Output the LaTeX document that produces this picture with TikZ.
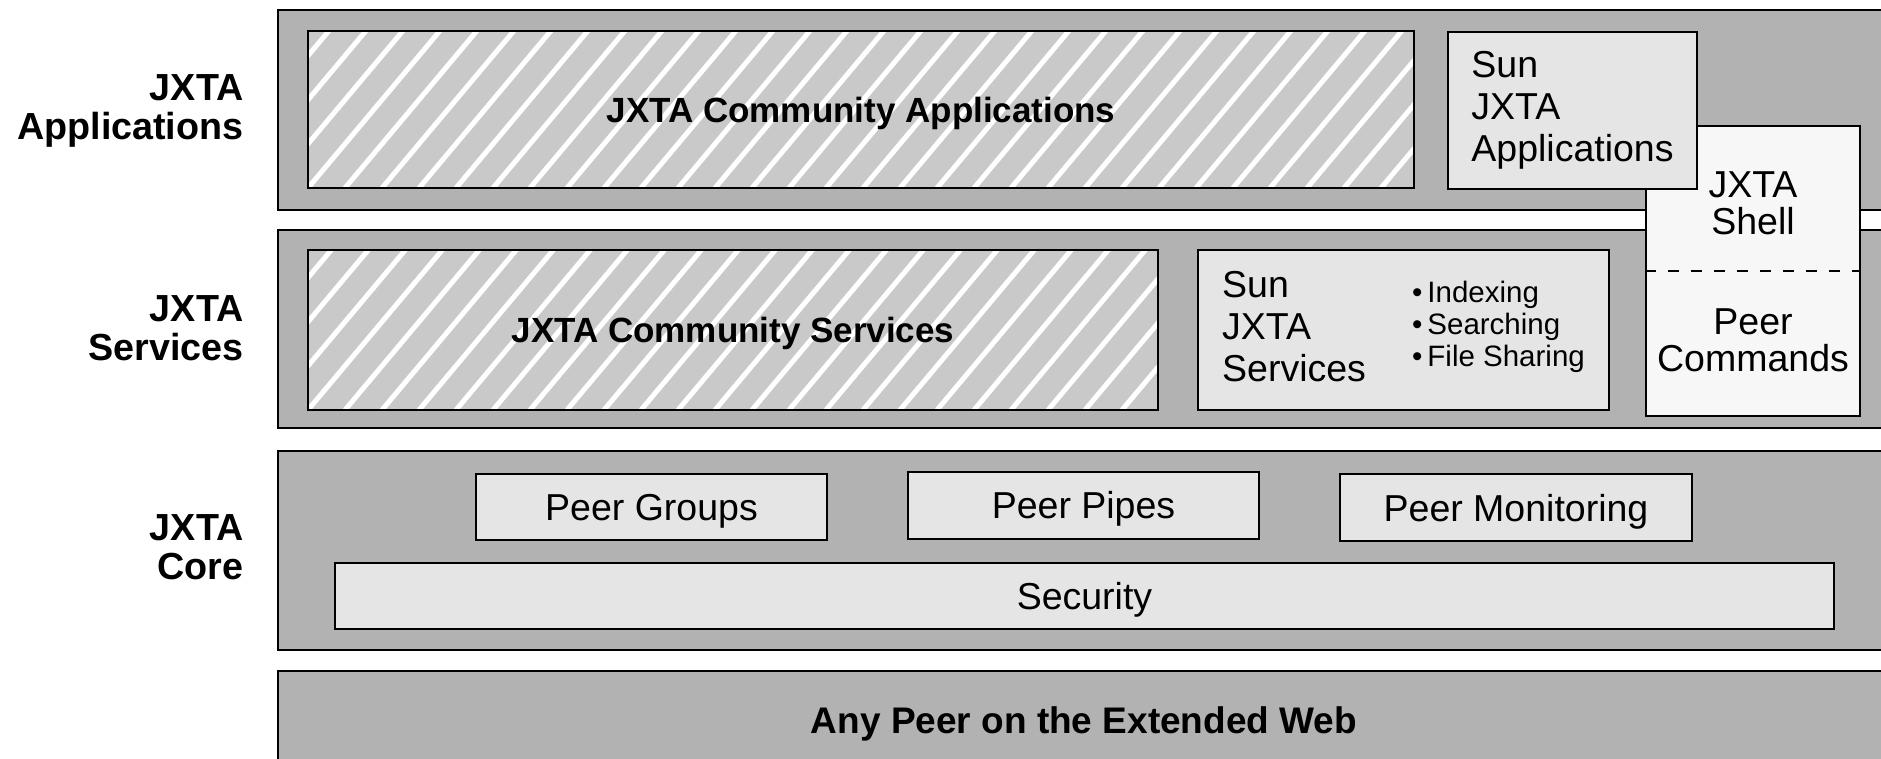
\documentclass[tikz,border=0pt]{standalone}
\usepackage{fontspec}
\setmainfont{Liberation Sans}

\begin{document}
\begin{tikzpicture}[
  x=1pt,y=-1pt,
  every node/.style={font=\fontsize{37.5}{42}\selectfont},
  layer/.style={draw,line width=2pt,fill=black!30,minimum width=1640pt,inner sep=0pt},
  box/.style={draw,line width=2pt,fill=black!10,inner sep=0pt},
  corebox/.style={box,text depth=0pt},
  hatched/.style={box,fill=black!21,path picture={
      \foreach \k in {-8,...,34}
        \draw[white,line width=5pt]
          ([xshift=\k*37pt]path picture bounding box.south west) -- ++(50:300pt);}},
  shellbox/.style={box,fill=black!3},
  side/.style={anchor=east,align=right,font=\fontsize{37.7}{39}\selectfont\bfseries},
  big/.style={font=\fontsize{35}{40}\selectfont\bfseries,text depth=0pt}]

\useasboundingbox (0,0) rectangle (1881,759);
\clip (0,0) rectangle (1881,759);

% ---- the four layers ----
\node[layer,minimum height=200pt] (applyr)  at (1098,110)   {};
\node[layer,minimum height=198pt] (svclyr)  at (1098,329)   {};
\node[layer,minimum height=199pt] (corelyr) at (1098,550.5) {};
\node[layer,minimum height=119pt] (peerlyr) at (1098,730.5) {};

\node[side] (lblapp)  at (247,111) {JXTA\\Applications};
\node[side] (lblsvc)  at (247,328) {JXTA\\Services};
\node[side] (lblcore) at (247,547) {JXTA\\Core};
\node[font=\fontsize{37}{40}\selectfont\bfseries] (anypeer) at (1084,724) {Any Peer on the Extended Web};

% ---- applications and services ----
\node[hatched,big,minimum width=1106pt,minimum height=157pt] (commapps) at (861,109.5) {JXTA Community Applications};
\node[hatched,big,minimum width=850pt,minimum height=160pt] (commsvc) at (733,330) {JXTA Community Services};
\node[box,minimum width=411pt,minimum height=160pt] (sunsvc) at (1403.5,330) {};
\node[anchor=west,inner sep=0pt,align=left] (sunsvctxt) at (1222,327) {Sun\\JXTA\\Services};
\node[anchor=west,inner sep=0pt,align=left,font=\fontsize{29.5}{32}\selectfont] (bullets) at (1412,327)
  {\textbullet\,Indexing\\\textbullet\,Searching\\\textbullet\,File Sharing};

% ---- core ----
\node[corebox,minimum width=351pt,minimum height=66pt] (groups)   at (651.5,507)  {Peer Groups};
\node[corebox,minimum width=351pt,minimum height=67pt] (pipes)    at (1083.5,505) {Peer Pipes};
\node[corebox,minimum width=352pt,minimum height=67pt] (monitor)  at (1516,507.5) {Peer Monitoring};
\node[corebox,minimum width=1499pt,minimum height=66pt] (security) at (1084.5,596) {Security};

% ---- shell across two layers ----
\node[shellbox,minimum width=214pt,minimum height=290pt] (shell) at (1753,271) {};
\draw[line width=2pt,dash pattern=on 11pt off 12pt] (shell.west) -- (shell.east);
\node[align=center,font=\fontsize{37.5}{37}\selectfont] (shelltxt) at (1753,203) {JXTA\\Shell};
\node[align=center,font=\fontsize{37.5}{37}\selectfont] (cmdtxt)   at (1753,340) {Peer\\Commands};

\node[box,align=left,minimum width=249pt,minimum height=157pt] (sunapps) at (1572.5,110.5) {Sun\\JXTA\\Applications};
\end{tikzpicture}
\end{document}
